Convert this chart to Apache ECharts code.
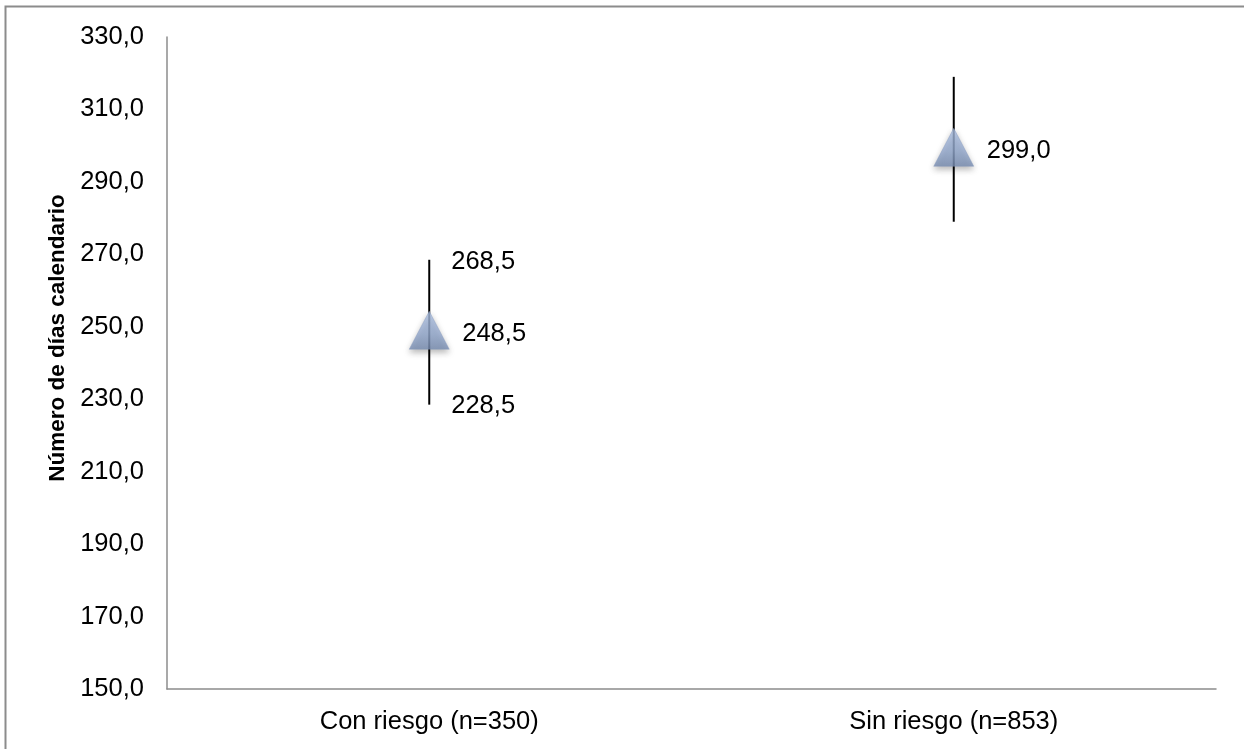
<!DOCTYPE html>
<html>
<head>
<meta charset="utf-8">
<script src="https://cdn.jsdelivr.net/npm/echarts@6/dist/echarts.min.js"></script>
<style>
html,body{margin:0;padding:0;background:#fff;}
#chart{width:1244px;height:749px;}
</style>
</head>
<body>
<div id="chart"></div>
<script>
const categories = ['Con riesgo (n=350)', 'Sin riesgo (n=853)'];
const means = [248.5, 299.0];
const lows = [228.5, 279.0];
const highs = [268.5, 319.0];
const showEndLabels = [true, false];
const yTicks = {min: 150, max: 330, interval: 20};

const fmt = v => v.toFixed(1).replace('.', ',');
const FONT = '"Liberation Sans", Arial, sans-serif';
const FS = 25.5;

const chart = echarts.init(document.getElementById('chart'));
chart.setOption({
  animation: false,
  backgroundColor: '#fff',
  grid: {left: 167, top: 37, right: 28, bottom: 60, containLabel: false},
  xAxis: {
    type: 'category',
    data: categories,
    axisLine: {lineStyle: {color: '#8c8c8c', width: 1.5}},
    axisTick: {show: false},
    axisLabel: {color: '#000', fontSize: FS, fontFamily: FONT, margin: 20},
    splitLine: {show: false}
  },
  yAxis: {
    type: 'value',
    min: yTicks.min, max: yTicks.max, interval: yTicks.interval,
    name: 'Número de días calendario',
    nameLocation: 'middle',
    nameGap: 98,
    nameTextStyle: {fontSize: 22.5, fontWeight: 'bold', fontFamily: FONT, color: '#000', padding: [0, 0, 0, 50]},
    axisLine: {show: true, lineStyle: {color: '#8c8c8c', width: 1.5}},
    axisTick: {show: false},
    axisLabel: {color: '#000', fontSize: FS, fontFamily: FONT, margin: 23, formatter: v => fmt(v)},
    splitLine: {show: false}
  },
  graphic: [{
    type: 'polyline',
    shape: {points: [[5.5, 749], [5.5, 6.5], [1244, 6.5]]},
    style: {stroke: '#8c8c8c', lineWidth: 2, fill: null}
  }],
  series: [
    {
      type: 'custom',
      data: categories.map((c, i) => [i, lows[i], highs[i], means[i], showEndLabels[i] ? 1 : 0]),
      renderItem: function (params, api) {
        const x = api.value(0);
        const lo = api.coord([x, api.value(1)]);
        const hi = api.coord([x, api.value(2)]);
        const mid = api.coord([x, api.value(3)]);
        const txt = (t, px, py) => ({
          type: 'text',
          z2: 10,
          style: {text: t, x: px, y: py, verticalAlign: 'middle', align: 'left', fontSize: FS, fontFamily: FONT, fill: '#000'}
        });
        const children = [{
          type: 'line',
          shape: {x1: lo[0], y1: lo[1], x2: hi[0], y2: hi[1]},
          style: {stroke: '#000', lineWidth: 2}
        }];
        children.push(txt(fmt(api.value(3)), mid[0] + 33, mid[1] + 2));
        if (api.value(4)) {
          children.push(txt(fmt(api.value(2)), hi[0] + 22, hi[1] + 2));
          children.push(txt(fmt(api.value(1)), lo[0] + 22, lo[1] + 1));
        }
        return {type: 'group', children: children};
      },
      z: 2
    },
    {
      type: 'scatter',
      data: means.map((m, i) => [i, m]),
      symbol: 'triangle',
      symbolSize: [40, 38],
      symbolOffset: [0, -2],
      itemStyle: {
        color: new echarts.graphic.LinearGradient(0, 0, 0, 1, [
          {offset: 0, color: '#aec2e5'},
          {offset: 0.6, color: '#93a9ce'},
          {offset: 1, color: '#788db2'}
        ]),
        borderColor: '#8599bd',
        borderWidth: 0.5,
        shadowColor: 'rgba(0,0,0,0.35)',
        shadowBlur: 6,
        shadowOffsetY: 3
      },
      label: {show: false},
      z: 3
    }
  ]
});
</script>
</body>
</html>
